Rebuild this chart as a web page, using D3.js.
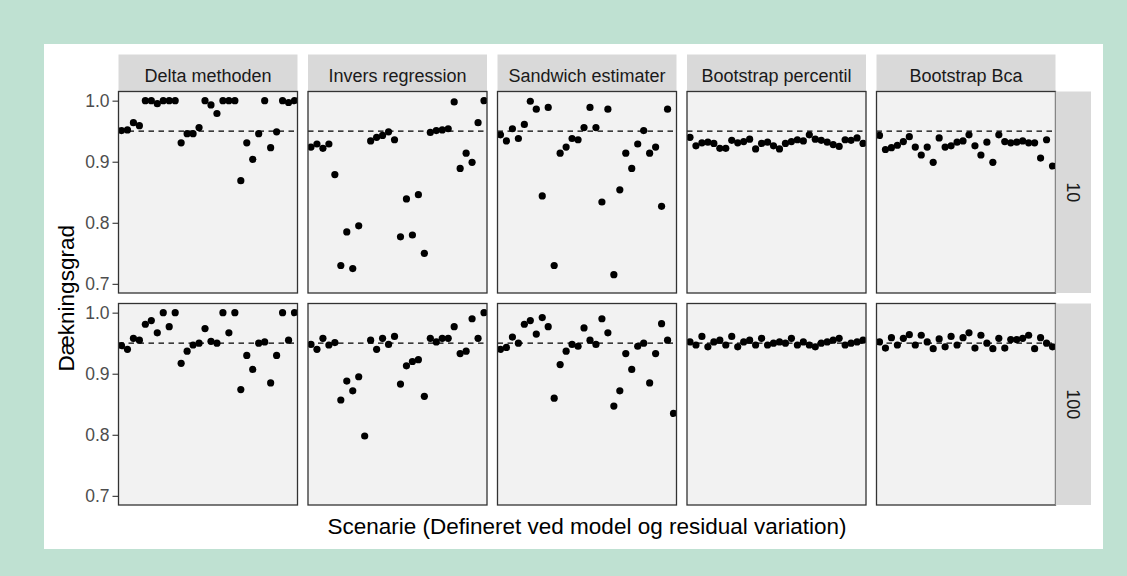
<!DOCTYPE html>
<html>
<head>
<meta charset="utf-8">
<script src="https://cdn.jsdelivr.net/npm/d3@7/dist/d3.min.js"></script>
<style>
  html, body { margin: 0; padding: 0; background: #bfe1d2; }
  svg { display: block; }
  text { font-family: "Liberation Sans", Arial, sans-serif; }
</style>
</head>
<body>
<svg id="chart" width="1127" height="576"></svg>
<script>
// Coverage of the confidence intervals per method, sample size and scenario
const methods = ["Delta methoden", "Invers regression", "Sandwich estimater", "Bootstrap percentil", "Bootstrap Bca"];
const sampleSizes = ["10", "100"];
const scenarios = [1,2,3,4,5,6,7,8,9,10,11,12,13,14,15,16,17,18,19,20,21,22,23,24,25,26,27,28,29,30];
const yTicks = [0.7, 0.8, 0.9, 1.0];
const nominal = 0.95;

// n = 10
const delta10 = [0.951,0.952,0.964,0.959,1.0,1.0,0.995,1.0,1.0,1.0,0.931,0.946,0.946,0.956,1.0,0.993,0.979,1.0,1.0,1.0,0.869,0.931,0.904,0.946,1.0,0.923,0.949,1.0,0.997,1.0];
const invers10 = [0.924,0.929,0.922,0.929,0.879,0.730,0.785,0.725,0.795,null,0.934,0.940,0.943,0.949,0.936,0.777,0.839,0.780,0.846,0.750,0.948,0.951,0.952,0.954,0.998,0.889,0.914,0.899,0.964,1.0];
const sandwich10 = [0.944,0.934,0.954,0.938,0.961,0.999,0.986,0.844,0.989,0.730,0.914,0.924,0.938,0.936,0.956,0.989,0.956,0.834,0.986,0.715,0.854,0.914,0.889,0.929,0.951,0.914,0.924,0.827,0.986,null];
const bootPct10 = [0.940,0.926,0.931,0.932,0.930,0.922,0.922,0.935,0.931,0.933,0.937,0.921,0.930,0.932,0.926,0.921,0.930,0.933,0.936,0.934,0.944,0.937,0.935,0.932,0.928,0.925,0.936,0.935,0.939,0.930];
const bootBca10 = [0.943,0.920,0.923,0.927,0.933,0.941,0.924,0.911,0.924,0.899,0.939,0.924,0.926,0.932,0.934,0.944,0.926,0.911,0.932,0.899,0.944,0.933,0.931,0.932,0.934,0.931,0.931,0.906,0.936,0.893];

// n = 100
const delta100 = [0.946,0.940,0.958,0.955,0.981,0.987,0.967,1.0,0.977,1.0,0.917,0.937,0.947,0.950,0.974,0.953,0.950,1.0,0.967,1.0,0.874,0.930,0.907,0.950,0.952,0.885,0.930,1.0,0.955,1.0];
const invers100 = [0.948,0.940,0.958,0.947,0.951,0.857,0.888,0.872,0.895,0.798,0.955,0.940,0.958,0.948,0.961,0.883,0.913,0.920,0.923,0.863,0.958,0.952,0.958,0.958,0.977,0.933,0.937,0.990,0.958,1.0];
const sandwich100 = [0.940,0.943,0.960,0.950,0.981,0.987,0.965,0.992,0.977,0.860,0.915,0.937,0.948,0.945,0.975,0.955,0.948,0.990,0.967,0.847,0.872,0.933,0.907,0.945,0.950,0.885,0.933,0.982,0.955,0.835];
const bootPct100 = [0.952,0.947,0.961,0.944,0.952,0.955,0.947,0.961,0.944,0.952,0.955,0.947,0.958,0.947,0.950,0.952,0.950,0.958,0.947,0.952,0.947,0.944,0.950,0.952,0.955,0.958,0.947,0.950,0.952,0.955];
const bootBca100 = [0.952,0.942,0.959,0.947,0.958,0.964,0.947,0.963,0.952,0.941,0.957,0.944,0.961,0.947,0.959,0.967,0.942,0.963,0.950,0.941,0.958,0.942,0.956,0.956,0.958,0.963,0.941,0.959,0.950,0.944];

const panelValues = [
  [delta10, invers10, sandwich10, bootPct10, bootBca10],
  [delta100, invers100, sandwich100, bootPct100, bootBca100]
];

// Layout
const W = 1127, H = 576;
const card = { x: 44, y: 44, w: 1059, h: 505 };
const panelLeft = 118.5, panelW = 179, gap = 10.5;
const stripTop = 54.5, panelTop = 91.5, panelH = 201.5;
const rightStripW = 35.5;

const svg = d3.select("#chart");
svg.append("rect").attr("width", W).attr("height", H).attr("fill", "#bfe1d2");
svg.append("rect").attr("x", card.x).attr("y", card.y).attr("width", card.w).attr("height", card.h).attr("fill", "#ffffff");

const x = d3.scaleLinear().domain([0.5, scenarios.length + 0.5]).range([0, panelW]);
const y = d3.scaleLinear().domain([0.685, 1.015]).range([panelH, 0]);

const defs = svg.append("defs");
defs.append("clipPath").attr("id", "panel-clip")
  .append("rect").attr("width", panelW).attr("height", panelH);

// Column strips
methods.forEach((m, c) => {
  const px = panelLeft + c * (panelW + gap);
  const g = svg.append("g").attr("transform", `translate(${px},${stripTop})`);
  g.append("rect").attr("width", panelW).attr("height", panelTop - stripTop).attr("fill", "#d9d9d9");
  g.append("text").attr("x", panelW / 2).attr("y", 27)
    .attr("text-anchor", "middle").attr("font-size", 18).attr("fill", "#1a1a1a").text(m);
});

sampleSizes.forEach((n, r) => {
  const py = panelTop + r * (panelH + gap);

  // Y axis on the first column
  const axis = svg.append("g").attr("transform", `translate(${panelLeft},${py})`)
    .call(d3.axisLeft(y).tickValues(yTicks).tickFormat(d3.format(".1f")).tickSize(6).tickPadding(3));
  axis.select(".domain").remove();
  axis.selectAll(".tick line").attr("stroke", "#333333").attr("stroke-width", 1.1);
  axis.selectAll(".tick text").attr("font-size", 17.5).attr("fill", "#4d4d4d")
    .attr("font-family", "Liberation Sans, Arial, sans-serif");

  methods.forEach((m, c) => {
    const px = panelLeft + c * (panelW + gap);
    const g = svg.append("g").attr("transform", `translate(${px},${py})`);
    g.append("rect").attr("width", panelW).attr("height", panelH).attr("fill", "#f2f2f2");

    g.append("line").attr("x1", 0).attr("x2", panelW)
      .attr("y1", y(nominal)).attr("y2", y(nominal))
      .attr("stroke", "#000").attr("stroke-width", 1.3).attr("stroke-dasharray", "5.5,4.5");

    const pts = scenarios.map((s, i) => ({ s, v: panelValues[r][c][i] }))
      .filter(d => d.v !== null);
    g.append("g").attr("clip-path", "url(#panel-clip)")
      .selectAll("circle").data(pts).join("circle")
      .attr("cx", d => x(d.s)).attr("cy", d => y(d.v)).attr("r", 3.6).attr("fill", "#000");

    g.append("rect").attr("width", panelW).attr("height", panelH)
      .attr("fill", "none").attr("stroke", "#333333").attr("stroke-width", 1.3);
  });

  // Row strip on the right
  const sx = panelLeft + methods.length * (panelW + gap) - gap;
  const sg = svg.append("g").attr("transform", `translate(${sx},${py})`);
  sg.append("rect").attr("width", rightStripW).attr("height", panelH).attr("fill", "#d9d9d9");
  sg.append("text").attr("transform", `translate(${rightStripW / 2 - 6},${panelH / 2}) rotate(90)`)
    .attr("text-anchor", "middle").attr("font-size", 18).attr("fill", "#1a1a1a").text(n);
});

// Axis titles
const plotBottom = panelTop + 2 * panelH + gap;
const plotRight = panelLeft + methods.length * (panelW + gap) - gap;
svg.append("text").attr("x", (panelLeft + plotRight) / 2).attr("y", 534)
  .attr("text-anchor", "middle").attr("font-size", 22.5).attr("fill", "#000")
  .text("Scenarie (Defineret ved model og residual variation)");
svg.append("text").attr("transform", `translate(74,${(panelTop + plotBottom) / 2}) rotate(-90)`)
  .attr("text-anchor", "middle").attr("font-size", 22.5).attr("fill", "#000")
  .text("Dækningsgrad");
</script>
</body>
</html>
